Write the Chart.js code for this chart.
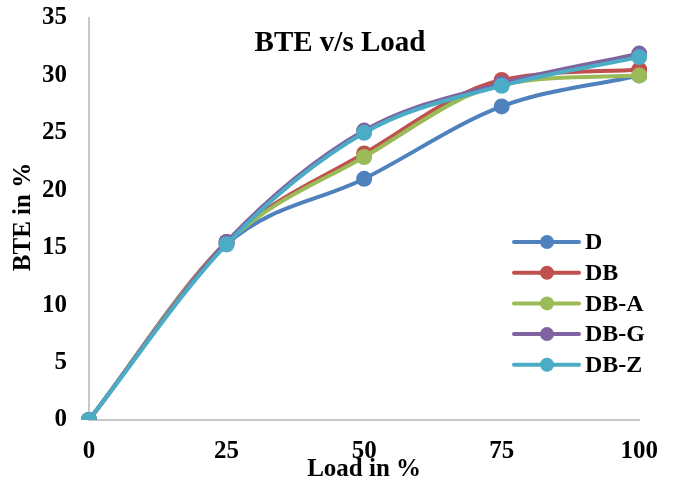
<!DOCTYPE html>
<html>
<head>
<meta charset="utf-8">
<script src="https://cdn.jsdelivr.net/npm/chart.js@4"></script>
<style>
  html, body { margin: 0; padding: 0; background: #fff; }
  #wrap { width: 675px; height: 485px; }
</style>
</head>
<body>
<div id="wrap"><canvas id="bte"></canvas></div>
<script>
const loads = ["0", "25", "50", "75", "100"];
const seriesNames = ["D", "DB", "DB-A", "DB-G", "DB-Z"];
const bteD  = [0, 15.3, 21.0, 27.3, 30.0];
const bteDB = [0, 15.5, 23.2, 29.6, 30.5];
const bteDBA = [0, 15.4, 22.9, 29.2, 30.0];
const bteDBG = [0, 15.5, 25.2, 29.3, 31.9];
const bteDBZ = [0, 15.3, 25.0, 29.1, 31.6];
const yTicks = [0, 5, 10, 15, 20, 25, 30, 35];

const colors = ["#4F81BD", "#C0504D", "#9BBB59", "#8064A2", "#4BACC6"];
const values = [bteD, bteDB, bteDBA, bteDBG, bteDBZ];
const FONT = "'Liberation Serif', 'Times New Roman', serif";

const datasets = seriesNames.map((name, i) => ({
    label: name,
    data: values[i],
    borderColor: colors[i],
    backgroundColor: colors[i],
    borderWidth: 4,
    pointRadius: 8,
    pointHoverRadius: 8,
    pointBorderWidth: 0,
    cubicInterpolationMode: "monotone",
    fill: false,
    order: seriesNames.length - i  // last series sits on top, like Excel
}));

// title, y-axis title and legend drawn over the chart
const overlay = {
    id: "overlay",
    afterDraw(chart) {
        const ctx = chart.ctx;
        ctx.save();
        ctx.fillStyle = "#000";
        ctx.font = "bold 29px " + FONT;
        ctx.textAlign = "center";
        ctx.textBaseline = "alphabetic";
        ctx.fillText("BTE v/s Load", 340, 51);

        // y title, rotated
        ctx.save();
        ctx.translate(24, 217);
        ctx.rotate(-Math.PI / 2);
        ctx.font = "bold 25px " + FONT;
        ctx.textBaseline = "middle";
        ctx.fillText("BTE in %", 0, 0);
        ctx.restore();

        ctx.font = "bold 24px " + FONT;
        ctx.textAlign = "left";
        ctx.textBaseline = "middle";
        chart.data.datasets.forEach((ds, i) => {
            const y = 242 + i * 30.7;
            ctx.strokeStyle = ds.borderColor;
            ctx.lineWidth = 4;
            ctx.lineCap = "round";
            ctx.beginPath();
            ctx.moveTo(514, y);
            ctx.lineTo(579, y);
            ctx.stroke();
            ctx.fillStyle = ds.borderColor;
            ctx.beginPath();
            ctx.arc(547, y, 7, 0, Math.PI * 2);
            ctx.fill();
            ctx.fillStyle = "#000";
            ctx.fillText(ds.label, 585, y + 1);
        });
        ctx.restore();
    }
};

new Chart(document.getElementById("bte"), {
    type: "line",
    data: { labels: loads, datasets: datasets },
    options: {
        responsive: true,
        maintainAspectRatio: false,
        animation: false,
        layout: { padding: { top: 18, right: 35, bottom: 0, left: 0 } },
        plugins: {
            legend: { display: false },
            tooltip: { enabled: false }
        },
        scales: {
            x: {
                offset: false,
                grid: { display: false, drawTicks: false },
                border: { display: true, color: "#C8C8C8", width: 2 },
                ticks: {
                    color: "#000",
                    padding: 17,
                    maxRotation: 0,
                    font: { family: FONT, size: 25, weight: "bold" }
                },
                title: {
                    display: true,
                    text: "Load in %",
                    color: "#000",
                    padding: { top: 0, bottom: 0 },
                    font: { family: FONT, size: 25, weight: "bold" }
                },
                afterFit(scale) { scale.height = 65; }
            },
            y: {
                min: 0,
                max: 35,
                afterBuildTicks(scale) { scale.ticks = yTicks.map(v => ({ value: v })); },
                grid: { display: false, drawTicks: false },
                border: { display: true, color: "#C8C8C8", width: 2 },
                ticks: {
                    color: "#000",
                    padding: 22,
                    font: { family: FONT, size: 25, weight: "bold" }
                },
                afterFit(scale) {
                    scale.width = 89;
                    scale.paddingTop = 0;
                    scale.paddingBottom = 0;
                }
            }
        }
    },
    plugins: [overlay]
});
</script>
</body>
</html>
